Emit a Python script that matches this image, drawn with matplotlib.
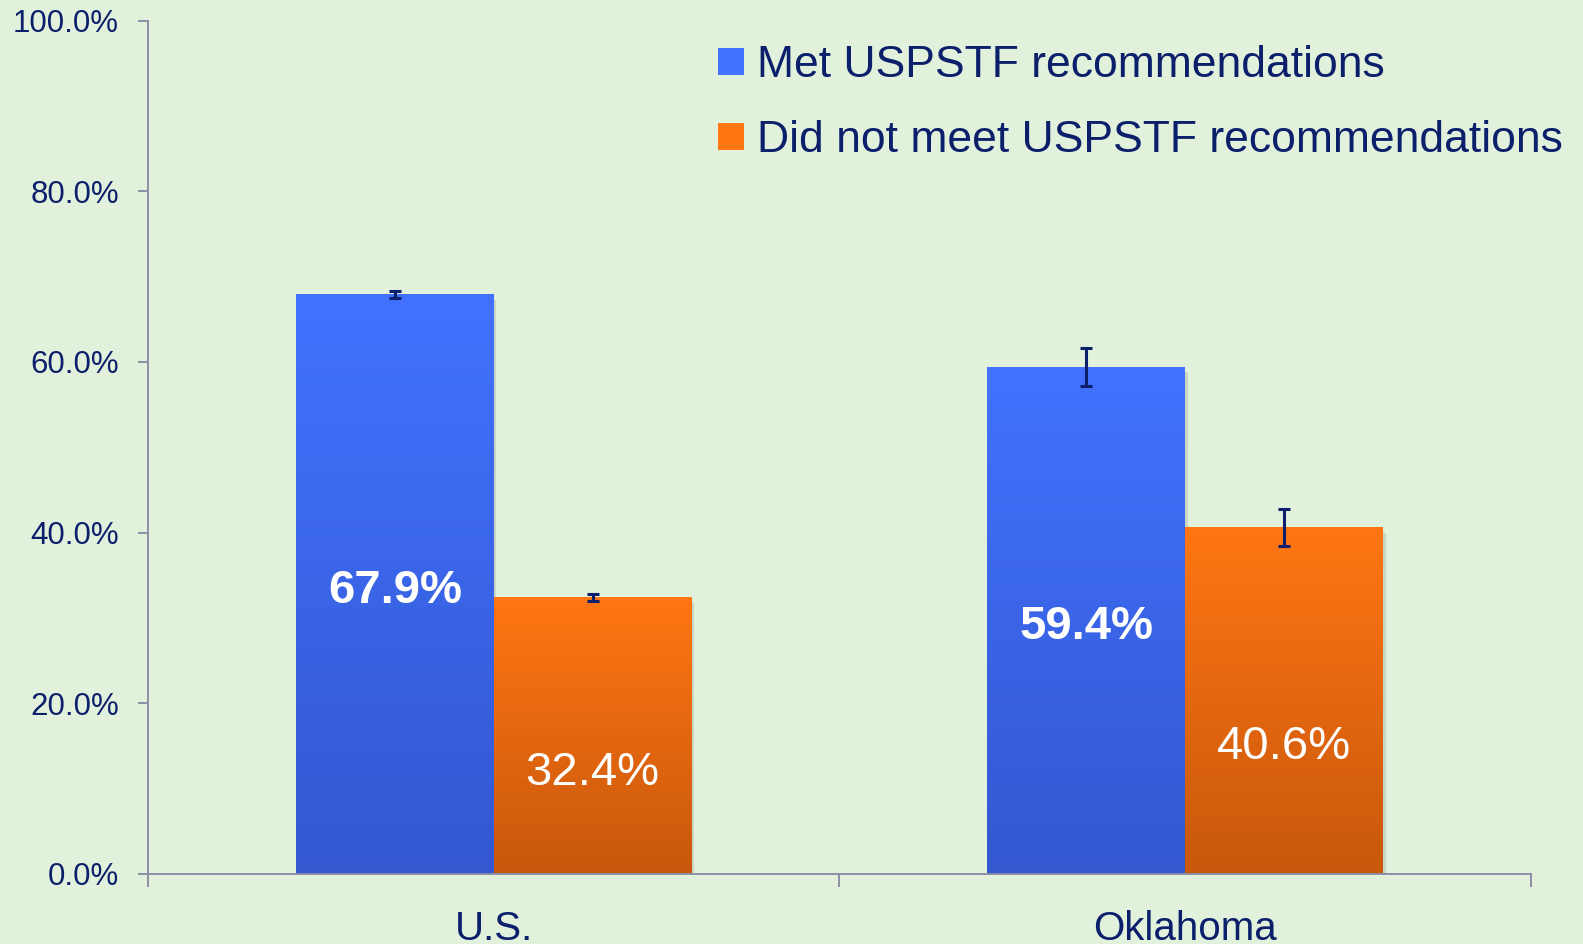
import numpy as np
import matplotlib
matplotlib.use("Agg")
import matplotlib.pyplot as plt
from matplotlib.colors import LinearSegmentedColormap
from matplotlib.ticker import PercentFormatter

# data
regions = ["U.S.", "Oklahoma"]
met = [67.9, 59.4]
met_err = [0.4, 2.2]
not_met = [32.4, 40.6]
not_met_err = [0.4, 2.2]
series_names = ["Met USPSTF recommendations", "Did not meet USPSTF recommendations"]
yticks = [0, 20, 40, 60, 80, 100]

bg = "#E2F1DC"
navy = "#0B1F6B"
axis_grey = "#8C90A6"
blue_top, blue_bot = "#4272FF", "#3358D0"
orange_top, orange_bot = "#FF7613", "#C8580C"

plt.rcParams["font.family"] = ["Liberation Sans", "DejaVu Sans"]

fig = plt.figure(figsize=(15.83, 9.44), dpi=100, facecolor=bg)
ax = fig.add_axes([0.0935, 0.0742, 0.8735, 0.904], facecolor=bg)

x = np.arange(len(regions))
w = 0.286


def grad_bars(xpos, vals, errs, top, bot, label):
    bars = ax.bar(xpos, vals, w, color=top, label=label, zorder=2)
    cmap = LinearSegmentedColormap.from_list("g", [bot, top])
    grad = np.linspace(1, 0, 256).reshape(-1, 1)
    for b in bars:
        x0, h = b.get_x(), b.get_height()
        ax.imshow(grad, extent=[x0, x0 + b.get_width(), 0, h], cmap=cmap,
                  aspect="auto", zorder=2.5, vmin=0, vmax=1)
        # soft shadow on the right/bottom
        ax.add_patch(plt.Rectangle((x0 + 0.004, -0.6), b.get_width(), h,
                                   color="#9aa59a", alpha=0.35, zorder=1.5, lw=0))
    ax.errorbar(xpos, vals, yerr=errs, fmt="none", ecolor=navy, elinewidth=2.2,
                capsize=4.5, capthick=2.2, zorder=4)
    return bars


grad_bars(x - w / 2, met, met_err, blue_top, blue_bot, series_names[0])
grad_bars(x + w / 2, not_met, not_met_err, orange_top, orange_bot, series_names[1])

# value labels
for i in range(len(regions)):
    ax.text(x[i] - w / 2, met[i] * 0.5 - 0.8, f"{met[i]:.1f}%", color="white",
            fontsize=34, fontweight="bold", ha="center", va="center", zorder=5)
    ax.text(x[i] + w / 2, not_met[i] * 0.365, f"{not_met[i]:.1f}%", color="white",
            fontsize=34, ha="center", va="center", zorder=5)

ax.set_xlim(-0.5, 1.5)
ax.set_ylim(0, 100)
ax.set_yticks(yticks)
ax.yaxis.set_major_formatter(PercentFormatter(decimals=1))
ax.set_xticks(x)
ax.set_xticklabels(regions)
ax.set_xticks([-0.5, 0.5, 1.5], minor=True)

for s in ["top", "right"]:
    ax.spines[s].set_visible(False)
for s in ["left", "bottom"]:
    ax.spines[s].set_color(axis_grey)
    ax.spines[s].set_linewidth(1.4)

ax.tick_params(axis="y", length=7, width=1.4, color=axis_grey, labelsize=22.5,
               labelcolor=navy, pad=14)
ax.tick_params(axis="x", which="major", length=0, labelsize=29, labelcolor=navy, pad=26)
ax.tick_params(axis="x", which="minor", length=9.5, width=1.4, color=axis_grey)

leg = ax.legend(loc="upper left", bbox_to_anchor=(0.4536, 0.952),
                bbox_transform=fig.transFigure, frameon=False, fontsize=32,
                handlelength=0.58, handleheight=0.58, handletextpad=0.3,
                borderpad=0, borderaxespad=0, labelspacing=0.76)
for t in leg.get_texts():
    t.set_color(navy)

fig.savefig("out.png", dpi=100, facecolor=bg)
